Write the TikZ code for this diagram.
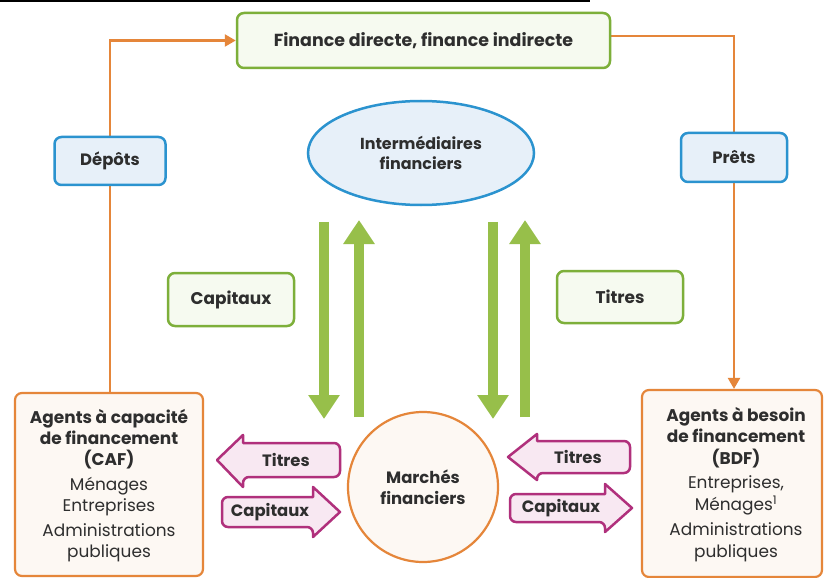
\documentclass[tikz,border=0pt]{standalone}
\usepackage{fontspec}
\setmainfont{Poppins}
\usetikzlibrary{arrows.meta,shapes.geometric}

\definecolor{ink}{HTML}{2E2E2E}
\definecolor{grn}{HTML}{7DAF3A}
\definecolor{grnfill}{HTML}{F6FAF0}
\definecolor{grnarrow}{HTML}{97BF4A}
\definecolor{blu}{HTML}{2B93CF}
\definecolor{blufill}{HTML}{E7F0F9}
\definecolor{org}{HTML}{E5863A}
\definecolor{orgfill}{HTML}{FDF8F3}
\definecolor{mag}{HTML}{B0307C}
\definecolor{magfill}{HTML}{F8E8F2}

\pgfdeclarelayer{bg}
\pgfsetlayers{bg,main}

\newcommand{\fsz}[1]{\fontsize{#1}{#1}\selectfont}

\tikzset{
  every node/.style={text=ink, inner sep=0pt},
  greenbox/.style={draw=grn, fill=grnfill, line width=2.5bp, rounded corners=7bp,
    font=\fsz{17}\bfseries},
  bluebox/.style={draw=blu, fill=blufill, line width=2.5bp, rounded corners=7bp,
    font=\fsz{16.5}\bfseries},
  agentbox/.style={draw=org, fill=orgfill, line width=2.2bp, rounded corners=7bp},
  agenttext/.style={align=center, font=\fontsize{17}{21.5}\selectfont},
  orangeline/.style={draw=org, line width=2.3bp},
  orangetip/.style={-{Triangle[length=11bp,width=12bp]}},
  bigarrow/.style={draw=grnarrow, line width=10bp, -{Triangle[length=24bp,width=30bp]}},
  blockarrow/.style={draw=mag, fill=magfill, line width=2.5bp, line join=round},
  pinktext/.style={font=\fsz{16.5}\bfseries},
}

\begin{document}
\begin{tikzpicture}[x=1bp,y=-1bp]
  \useasboundingbox (0,0) rectangle (825,578);
  \begin{pgfonlayer}{bg}
    \fill[white] (0,0) rectangle (825,578);
  \end{pgfonlayer}
  % rule along the top edge
  \draw[line width=2.5bp, black] (0,1) -- (590,1);

  % boxes
  \node[greenbox, minimum width=373bp, minimum height=55bp, font=\fsz{17.5}\bfseries]
    (fin) at (423.5,40.5) {Finance directe, finance indirecte};
  \node[bluebox, minimum width=111bp, minimum height=48bp] (dep) at (110,161) {Dépôts};
  \node[bluebox, minimum width=106bp, minimum height=49bp] (pre) at (734,157.5) {Prêts};
  \node[ellipse, draw=blu, fill=blufill, line width=2.5bp, minimum width=226bp,
    minimum height=104bp, align=center, font=\fontsize{16}{20}\selectfont\bfseries]
    (inter) at (421,153) {Intermédiaires\\financiers};
  \node[greenbox, minimum width=126bp, minimum height=53bp] (capg) at (231,299.5) {Capitaux};
  \node[greenbox, minimum width=126bp, minimum height=52bp] (titg) at (620,297) {Titres};

  \node[agentbox, minimum width=188bp, minimum height=183bp] (caf) at (109,484.5) {};
  \node[agenttext] (caftxt) at ([yshift=-1bp]caf.center)
    {\textbf{Agents à capacité}\\\textbf{de financement}\\\textbf{(CAF)}\\[3bp]
     Ménages\\[0bp] Entreprises\\[3bp] Administrations\\ publiques};
  \node[agentbox, minimum width=180bp, minimum height=187bp] (bdf) at (732,483.5) {};
  \node[agenttext] (bdftxt) at ([xshift=4bp,yshift=-1bp]bdf.center)
    {\textbf{Agents à besoin}\\\textbf{de financement}\\\textbf{(BDF)}\\[3bp]
     Entreprises,\\ Ménages\textsuperscript{1}\\[4bp] Administrations\\ publiques};

  \node[circle, draw=org, fill=orgfill, line width=2.2bp, minimum size=150bp,
    align=center, font=\fontsize{16.5}{21}\selectfont\bfseries]
    (march) at (423,487) {Marchés\\financiers};

  % orange connectors
  \begin{pgfonlayer}{bg}
    \draw[orangeline] (dep.south) -- (dep.south |- caf.north);
    \draw[orangeline, orangetip] (dep.north) |- (fin.west);
    \draw[orangeline] ([yshift=4.5bp]fin.east) -| (pre.north);
    \draw[orangeline, orangetip] (pre.south) -- (pre.south |- bdf.north);
  \end{pgfonlayer}

  % green flows between intermediaries and markets
  \coordinate (ld0) at (324,222);  \coordinate (ld1) at (324,419);
  \coordinate (lu0) at (359,417);  \coordinate (lu1) at (359,220);
  \coordinate (rd0) at (493,222);  \coordinate (rd1) at (493,419);
  \coordinate (ru0) at (525,417);  \coordinate (ru1) at (525,220);
  \draw[bigarrow] (ld0) -- (ld1);
  \draw[bigarrow] (lu0) -- (lu1);
  \draw[bigarrow] (rd0) -- (rd1);
  \draw[bigarrow] (ru0) -- (ru1);

  % block arrows, left side
  \draw[blockarrow] (217,460) -- (243,435) -- (243,443) [rounded corners=6bp]
    -- (340,443) -- (340,477) -- (243,477) [sharp corners] -- (243,487) -- cycle;
  \draw[blockarrow] (340,512) -- (313,487) -- (313,497) [rounded corners=6bp]
    -- (222,497) -- (222,527) -- (313,527) [sharp corners] -- (313,537) -- cycle;
  \node[pinktext] (t1) at (286,460) {Titres};
  \node[pinktext] (c1) at (270,512) {Capitaux};

  % block arrows, right side
  \draw[blockarrow] (508,457) -- (537,434) -- (537,441) [rounded corners=6bp]
    -- (630,441) -- (630,473) -- (537,473) [sharp corners] -- (537,480) -- cycle;
  \draw[blockarrow] (632,508) -- (605,484) -- (605,494) [rounded corners=6bp]
    -- (510,494) -- (510,522) -- (605,522) [sharp corners] -- (605,532) -- cycle;
  \node[pinktext] (t2) at (578,457) {Titres};
  \node[pinktext] (c2) at (561,508) {Capitaux};
\end{tikzpicture}
\end{document}
